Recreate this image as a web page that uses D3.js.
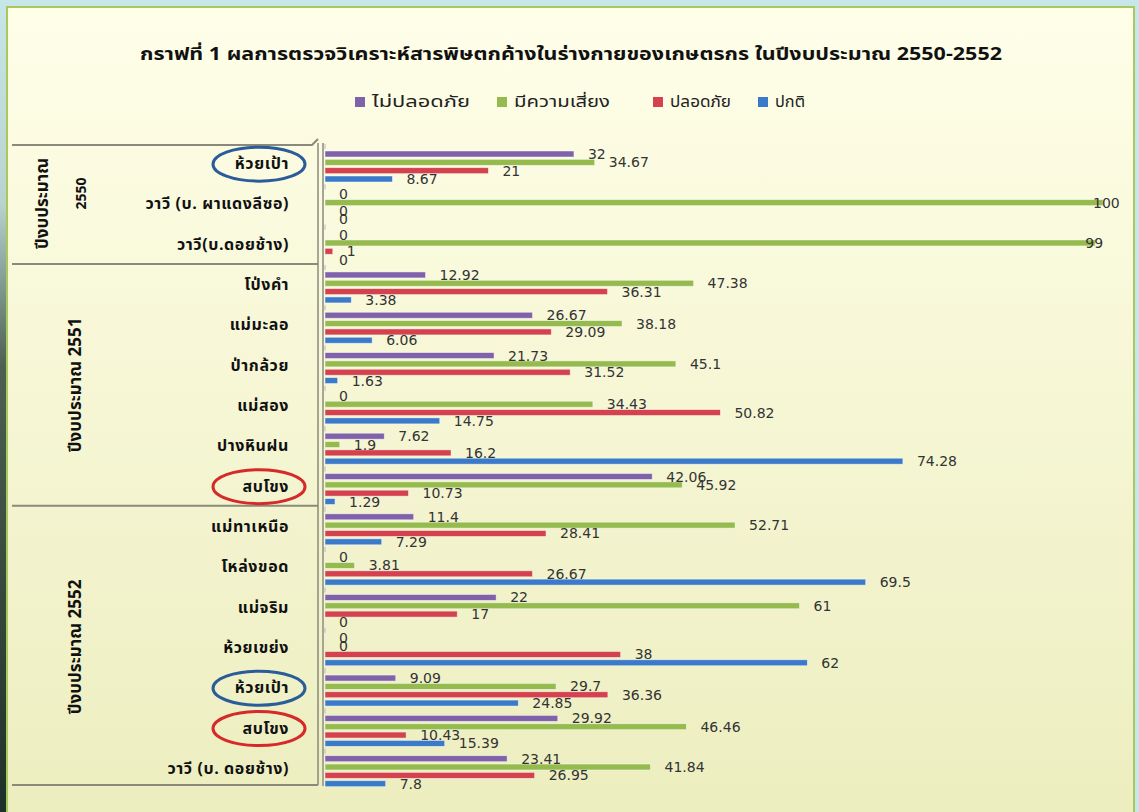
<!DOCTYPE html>
<html>
<head>
<meta charset="utf-8">
<script src="https://cdn.jsdelivr.net/npm/d3@7"></script>
<style>
  body { margin: 0; background: #c7e6e8; }
  svg { display: block; }
</style>
</head>
<body>
<svg width="1139" height="812"></svg>
<script>
// categories, top to bottom
var places = [
    'ห้วยเป้า', 'วาวี (บ. ผาแดงลีซอ)', 'วาวี(บ.ดอยช้าง)',
    'โป่งคำ', 'แม่มะลอ', 'ป่ากล้วย', 'แม่สอง', 'ปางหินฝน', 'สบโขง',
    'แม่ทาเหนือ', 'โหล่งขอด', 'แม่จริม', 'ห้วยเขย่ง', 'ห้วยเป้า', 'สบโขง', 'วาวี (บ. ดอยช้าง)'
];
var years = ['2550', '2551', '2552'];
var yearCounts = [3, 6, 7];
var circled = [0, 8, 13, 14]; // labels with a ring round them
var seriesNames = ['ไม่ปลอดภัย', 'มีความเสี่ยง', 'ปลอดภัย', 'ปกติ'];

var unsafe = [32, 0, 0, 12.92, 26.67, 21.73, 0, 7.62, 42.06, 11.4, 0, 22, 0, 9.09, 29.92, 23.41];
var atRisk = [34.67, 100, 99, 47.38, 38.18, 45.1, 34.43, 1.9, 45.92, 52.71, 3.81, 61, 0, 29.7, 46.46, 41.84];
var safe = [21, 0, 1, 36.31, 29.09, 31.52, 50.82, 16.2, 10.73, 28.41, 26.67, 17, 38, 36.36, 10.43, 26.95];
var normal = [8.67, 0, 0, 3.38, 6.06, 1.63, 14.75, 74.28, 1.29, 7.29, 69.5, 0, 62, 24.85, 15.39, 7.8];

var colors = ['#7f62aa', '#95bb4e', '#d3424d', '#3b7ac8'];
var ringColors = ['#2b5c9a', '#d62a2a', '#2b5c9a', '#d62a2a'];

var svg = d3.select('svg');
var thai = '"Noto Sans Thai", "Noto Serif Thai", Garuda, Loma, "DejaVu Sans", sans-serif';

// background panel
var defs = svg.append('defs');
var grad = defs.append('linearGradient').attr('id', 'panel')
    .attr('x1', 0).attr('y1', 0).attr('x2', 0).attr('y2', 1);
grad.append('stop').attr('offset', 0).attr('stop-color', '#fffee9');
grad.append('stop').attr('offset', 1).attr('stop-color', '#eceebf');
var strip = defs.append('linearGradient').attr('id', 'strip')
    .attr('x1', 0).attr('y1', 0).attr('x2', 0).attr('y2', 1);
strip.append('stop').attr('offset', 0).attr('stop-color', '#c7e6e8');
strip.append('stop').attr('offset', 0.25).attr('stop-color', '#b9d3cf');
strip.append('stop').attr('offset', 0.45).attr('stop-color', '#4c6152');
strip.append('stop').attr('offset', 1).attr('stop-color', '#1f3128');

svg.append('rect').attr('x', 0).attr('y', 0).attr('width', 8).attr('height', 812)
    .attr('fill', 'url(#strip)');
svg.append('rect').attr('x', 7).attr('y', 7).attr('width', 1127).attr('height', 810)
    .attr('fill', 'url(#panel)').attr('stroke', '#a9c95d').attr('stroke-width', 2);

// title and legend
svg.append('text').attr('x', 571).attr('y', 60).attr('text-anchor', 'middle')
    .attr('font-family', thai).attr('font-weight', 'bold').attr('font-size', 17)
    .attr('textLength', 862).attr('lengthAdjust', 'spacingAndGlyphs')
    .attr('fill', '#111')
    .text('กราฟที่ 1 ผลการตรวจวิเคราะห์สารพิษตกค้างในร่างกายของเกษตรกร ในปีงบประมาณ 2550-2552');

var legendX = [355, 497, 653, 758];
var legendW = [98, 96, 61, 30];
var legend = svg.append('g').selectAll('g').data(seriesNames).enter().append('g')
    .attr('transform', function(d, i) { return 'translate(' + legendX[i] + ',97)'; });
legend.append('rect').attr('width', 10).attr('height', 10)
    .attr('fill', function(d, i) { return colors[i]; });
legend.append('text').attr('x', 17).attr('y', 10)
    .attr('font-family', thai).attr('font-size', 15).attr('fill', '#222')
    .attr('textLength', function(d, i) { return legendW[i]; })
    .attr('lengthAdjust', 'spacingAndGlyphs')
    .text(function(d) { return d; });

// scales
var plotTop = 143, plotBottom = 788, plotLeft = 325;
var y = d3.scaleBand().domain(d3.range(places.length)).range([plotTop, plotBottom]);
var ySub = d3.scaleBand().domain(d3.range(4)).range([8, 39]).paddingInner(0.28);
var x = d3.scaleLinear().domain([0, 100]).range([plotLeft, 1103]);

// left table frame
var table = svg.append('g');
table.append('path')
    .attr('d', 'M12,145 H312 L318,139 M12,785 H318')
    .attr('fill', 'none').attr('stroke', '#8a8a7a').attr('stroke-width', 2);
var yearStart = [0, 3, 9];
yearStart.slice(1).forEach(function(s) {
    table.append('line').attr('x1', 12).attr('x2', 318)
        .attr('y1', y(s)).attr('y2', y(s))
        .attr('stroke', '#8a8a7a').attr('stroke-width', 2);
});
table.append('line').attr('x1', 318).attr('x2', 318).attr('y1', plotTop).attr('y2', plotBottom - 3)
    .attr('stroke', '#8a8a7a').attr('stroke-width', 1.5);
table.append('line').attr('x1', 323).attr('x2', 323).attr('y1', plotTop).attr('y2', plotBottom - 2)
    .attr('stroke', '#a5a598').attr('stroke-width', 2);

// year group labels (rotated)
years.forEach(function(yr, i) {
    var s = yearStart[i], e = s + yearCounts[i];
    var cy = (y(s) + y(e - 1) + y.bandwidth()) / 2;
    if (i == 0) {
        table.append('text').attr('transform', 'translate(48,' + cy + ') rotate(-90)')
            .attr('text-anchor', 'middle').attr('font-family', thai).attr('font-weight', 'bold')
            .attr('font-size', 17).attr('fill', '#111').text('ปีงบประมาณ');
        table.append('text').attr('transform', 'translate(86,' + (cy - 10) + ') rotate(-90)')
            .attr('text-anchor', 'middle').attr('font-family', thai).attr('font-weight', 'bold')
            .attr('font-size', 14).attr('fill', '#111').text(yr);
    } else {
        table.append('text').attr('transform', 'translate(81,' + cy + ') rotate(-90)')
            .attr('text-anchor', 'middle').attr('font-family', thai).attr('font-weight', 'bold')
            .attr('font-size', 17).attr('fill', '#111').text('ปีงบประมาณ ' + yr);
    }
});

// category labels
table.selectAll('text.place').data(places).enter().append('text')
    .attr('class', 'place')
    .attr('x', 289)
    .attr('y', function(d, i) { return y(i) + y.bandwidth() / 2 + 6; })
    .attr('text-anchor', 'end')
    .attr('font-family', thai).attr('font-weight', 'bold').attr('font-size', 16)
    .attr('letter-spacing', 0.6)
    .attr('fill', '#111')
    .text(function(d) { return d; });

table.selectAll('ellipse').data(circled).enter().append('ellipse')
    .attr('cx', 259)
    .attr('cy', function(d) { return y(d) + y.bandwidth() / 2 + 1; })
    .attr('rx', 46).attr('ry', 17)
    .attr('fill', 'none').attr('stroke-width', 3)
    .attr('stroke', function(d, i) { return ringColors[i]; });

// small ticks on the axis
svg.append('g').selectAll('line').data(d3.range(places.length)).enter().append('line')
    .attr('x1', 325).attr('x2', 325)
    .attr('y1', function(d) { return y(d) + 1; })
    .attr('y2', function(d) { return y(d) + 6; })
    .attr('stroke', '#b7b7c8').attr('stroke-width', 1);

// bars
var series = [unsafe, atRisk, safe, normal];
var rows = [];
places.forEach(function(p, i) {
    series.forEach(function(s, k) {
        rows.push({ row: i, k: k, v: s[i] });
    });
});

var bars = svg.append('g');
bars.selectAll('rect').data(rows).enter().append('rect')
    .attr('x', x(0))
    .attr('y', function(d) { return y(d.row) + ySub(d.k); })
    .attr('width', function(d) { return Math.max(x(d.v) - x(0), 0); })
    .attr('height', ySub.bandwidth())
    .attr('fill', function(d) { return colors[d.k]; })
    .attr('stroke', 'rgba(255,255,255,0.6)').attr('stroke-width', 0.8);

bars.selectAll('text').data(rows).enter().append('text')
    .attr('x', function(d) { return x(d.v) + (d.v >= 99 ? -10 : 14); })
    .attr('y', function(d) { return y(d.row) + ySub(d.k) + ySub.bandwidth() / 2 + 5; })
    .attr('font-family', 'Tahoma, "DejaVu Sans", sans-serif').attr('font-size', 14)
    .attr('fill', '#333')
    .text(function(d) { return d.v; });
</script>
</body>
</html>
